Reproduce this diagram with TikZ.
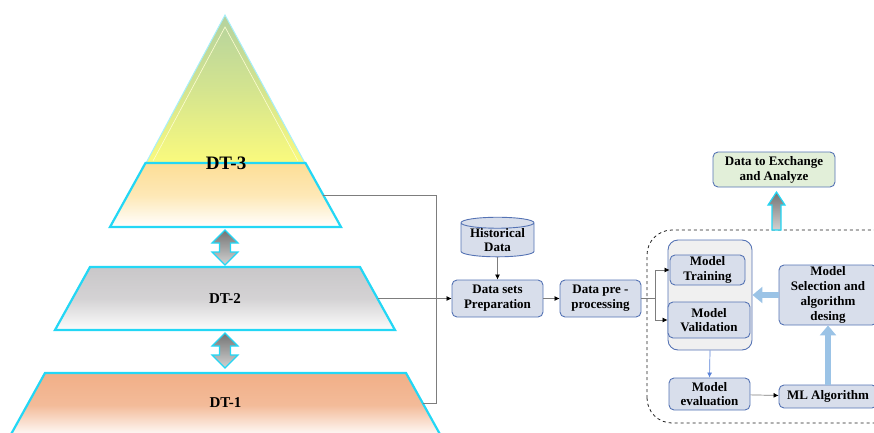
\documentclass[tikz,border=0pt]{standalone}
\usepackage{fontspec}
\setmainfont{Liberation Serif}
\usetikzlibrary{positioning,arrows.meta,shapes.geometric,calc}
\definecolor{layeredge}{RGB}{35,215,245}
\definecolor{boxfill}{RGB}{216,222,235}
\definecolor{boxedge}{RGB}{85,115,180}
\definecolor{greenfill}{RGB}{226,239,217}
\definecolor{paleblue}{RGB}{155,195,230}
\definecolor{linkgray}{RGB}{125,125,125}
\definecolor{downblue}{RGB}{90,130,215}
\definecolor{peach}{RGB}{253,222,150}
\definecolor{salmon}{RGB}{241,175,135}
\definecolor{ash}{RGB}{201,199,201}
\definecolor{leaf}{RGB}{180,210,158}
\definecolor{lemon}{RGB}{250,250,125}
\tikzset{
  layer/.style={draw=layeredge,line width=2.2pt,line join=miter},
  tag/.style={font=\fontsize{15}{15}\selectfont\bfseries},
  proc/.style={rectangle,rounded corners=5pt,draw=boxedge,line width=0.9pt,fill=boxfill,align=center,inner sep=1pt,font=\fontsize{13}{14.8}\selectfont\bfseries},
  link/.style={draw=linkgray,line width=0.7pt},
  tip/.style={link,-{Latex[length=5pt,width=5pt,color=black]}},
  fatlink/.style={draw=paleblue,line width=6pt,-{Triangle[length=10pt,width=16pt]}},
  twoway/.style={draw=layeredge,line width=1.2pt,top color=gray!90!black,bottom color=gray!35}
}
\begin{document}
\begin{tikzpicture}[x=1pt,y=1pt]
  \useasboundingbox (0,0) rectangle (874,432);
  \clip (0,0) rectangle (874,432);

  % pyramid
  \shade[top color=leaf,bottom color=lemon,middle color=leaf!55!lemon,draw=layeredge!40!white,line width=1pt]
    (146,269) -- (225,417) -- (305,269) -- cycle;
  \draw[white!65!lemon,line width=0.6pt] (153,271) -- (225,405) -- (298,271);
  \shade[layer,top color=peach,bottom color=white,middle color=peach!70!white]
    (110,205) -- (145.5,269) -- (305.5,269) -- (341,205) -- cycle;
  \coordinate (dt3e) at (323.2,237);
  \node[font=\fontsize{19}{19}\selectfont\bfseries] (dt3) at (226,269) {DT-3};
  \shade[layer,top color=ash,bottom color=white!95!ash,middle color=ash!80!white]
    (55,102) -- (90,165) -- (360,165) -- (395,102) -- cycle;
  \coordinate (dt2e) at (377.5,133.5);
  \node[tag] (dt2) at (225,133.5) {DT-2};
  \shade[layer,top color=salmon,bottom color=white,middle color=salmon!85!white]
    (9.5,-5) -- (45,59) -- (406,59) -- (441.5,-5) -- cycle;
  \coordinate (dt1e) at (422.6,29);
  \node[tag] (dt1) at (225.5,29) {DT-1};

  % links between layers
  \shade[twoway] (225,202) -- (238,189) -- (230.5,189) -- (230.5,180) -- (238,180) -- (225,167)
    -- (212,180) -- (219.5,180) -- (219.5,189) -- (212,189) -- cycle;
  \shade[twoway] (225,99) -- (238,86) -- (230.5,86) -- (230.5,77) -- (238,77) -- (225,64)
    -- (212,77) -- (219.5,77) -- (219.5,86) -- (212,86) -- cycle;

  % data flow
  \node[cylinder,shape border rotate=90,aspect=0.2,draw=boxedge,line width=0.9pt,fill=boxfill,align=center,
        inner sep=0pt,minimum width=73pt,minimum height=34pt,font=\fontsize{13}{13.5}\selectfont\bfseries] (hist) at (497.5,192) {Historical\\Data};
  \node[proc,minimum width=91pt,minimum height=37pt] (prep) at (497.5,133.5) {Data sets\\Preparation};
  \node[proc,minimum width=81pt,minimum height=37pt] (pre) at (600.5,133.5) {Data pre -\\processing};
  \node[proc,fill=greenfill,minimum width=122pt,minimum height=35pt] (exch) at (774,262.5) {Data to Exchange\\and Analyze};

  \draw[dashed,draw=gray!25!black,line width=0.8pt,rounded corners=25pt] (647,9) rectangle (900,202);
  \node[draw=boxedge,line width=0.9pt,fill=gray!12,rounded corners=10pt,minimum width=84pt,minimum height=110pt] (bench) at (710,137) {};
  \node[proc,minimum width=75pt,minimum height=30pt] (train) at (707.5,162) {Model\\Training};
  \node[proc,minimum width=82pt,minimum height=36pt] (valid) at (709,112) {Model\\Validation};
  \node[proc,minimum width=98pt,minimum height=60pt] (sel) at (828,137) {Model\\Selection and\\algorithm\\desing};
  \node[proc,minimum width=81pt,minimum height=32pt] (eval) at (709.5,38) {Model\\evaluation};
  \node[proc,minimum width=98pt,minimum height=23pt] (mlalg) at (828,35.5) {ML Algorithm};

  \shade[draw=layeredge,line width=1.2pt,top color=gray!90!black,bottom color=gray!35]
    (776.5,240) -- (785,227) -- (781,227) -- (781,202) -- (772,202) -- (772,227) -- (768,227) -- cycle;

  \coordinate (bus) at (436,133.5);
  \coordinate (fork) at (655,133.5);
  \draw[link] (dt3e) -| (bus);
  \draw[link] (dt1e) -| (bus);
  \draw[tip] (dt2e) -- (prep.west);
  \draw[tip] (hist) -- (prep);
  \draw[tip] (prep) -- (pre);
  \draw[link] (pre.east) -- (fork);
  \draw[tip] (fork) |- (train.west);
  \draw[tip] (fork) |- (valid.west);
  \draw[draw=downblue,line width=0.7pt,-{Latex[length=5pt,width=5pt]}] (bench.south) -- (eval.north);
  \draw[tip] (eval) -- (mlalg);
  \draw[fatlink] (mlalg) -- (sel);
  \draw[fatlink] (sel) -- (bench);
\end{tikzpicture}
\end{document}
